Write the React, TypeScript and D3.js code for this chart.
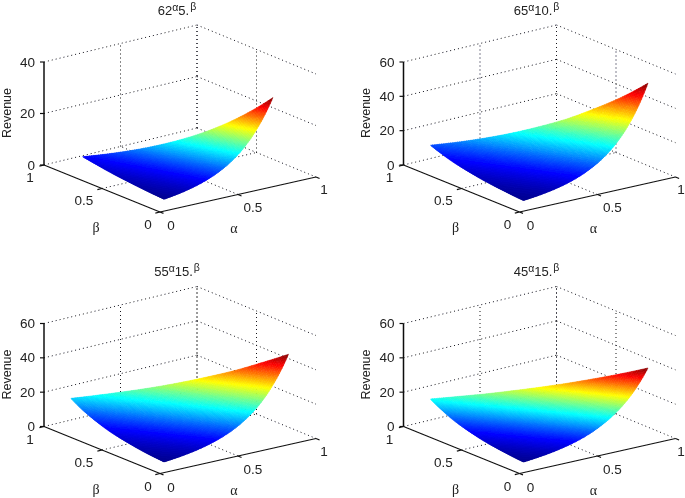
import { useEffect, useRef } from 'react'
import {
  group,
  max,
  min,
  path,
  scaleLinear,
  select,
} from 'd3'

// grid of the surface: rows are beta, columns are alpha, both start at 0.1
const gridStep = 0.1
const gridStart = 0.1

// Revenue read per panel, each row is one beta step
const revenueA = [
  [1.77, 2.67, 4.04, 6.1, 9.2, 13.9, 21.1, 31.7],
  [2.08, 3.15, 4.76, 7.19, 10.9, 16.4, 24.8],
  [2.45, 3.69, 5.59, 8.44, 12.7, 19.3],
  [2.87, 4.33, 6.56, 9.9, 15.0],
  [3.38, 5.11, 7.73, 11.7],
  [3.97, 6.0, 9.07],
  [4.67, 7.05],
  [5.47],
]
const revenueB = [
  [1.92, 2.9, 4.41, 6.69, 10.2, 15.4, 23.4, 35.5, 53.9],
  [2.4, 3.63, 5.53, 8.39, 12.7, 19.3, 29.4, 44.6],
  [3.04, 4.6, 7.0, 10.6, 16.1, 24.4, 37.2],
  [3.82, 5.77, 8.79, 13.3, 20.2, 30.6],
  [4.8, 7.27, 11.1, 16.8, 25.5],
  [6.05, 9.15, 13.9, 21.1],
  [7.62, 11.5, 17.5],
  [9.59, 14.5],
  [12.1],
]
const revenueC = [
  [1.95, 2.92, 4.36, 6.51, 9.72, 14.5, 21.6, 32.4, 48.3],
  [2.56, 3.84, 5.73, 8.55, 12.8, 19.1, 28.4, 42.5],
  [3.35, 5.02, 7.49, 11.2, 16.7, 25.0, 37.1],
  [4.4, 6.58, 9.82, 14.7, 21.9, 32.7],
  [5.77, 8.63, 12.9, 19.2, 28.7],
  [7.57, 11.3, 16.9, 25.2],
  [9.92, 14.9, 22.2],
  [13.0, 19.5],
  [17.0],
]
const revenueD = [
  [1.91, 2.8, 4.1, 6.0, 8.79, 12.9, 18.9, 27.5, 40.3],
  [2.51, 3.68, 5.38, 7.88, 11.5, 16.9, 24.8, 36.1],
  [3.29, 4.82, 7.04, 10.3, 15.1, 22.1, 32.4],
  [4.31, 6.31, 9.23, 13.5, 19.8, 29.0],
  [5.65, 8.28, 12.1, 17.7, 26.0],
  [7.42, 10.9, 15.9, 23.3],
  [9.72, 14.3, 20.8],
  [12.7, 18.7],
  [16.6],
]

const titleBases = [
  ['62', '5.'],
  ['65', '10.'],
  ['55', '15.'],
  ['45', '15.'],
]
const zTicksTall = [0, 20, 40, 60]
const zTicksShort = [0, 20, 40]
const floorTicks = [0, 0.5, 1]

const jetStops = ['#00008f', '#0000ff', '#00ffff', '#ffff00', '#ff0000', '#800000']
const jetDomain = [0, 0.125, 0.375, 0.625, 0.875, 1]
const colorLevels = 128
const cellDivisions = 12

const panels = [
  { rows: revenueA, title: titleBases[0], zTicks: zTicksShort, dx: 0, dy: 0 },
  { rows: revenueB, title: titleBases[1], zTicks: zTicksTall, dx: 359.5, dy: 0 },
  { rows: revenueC, title: titleBases[2], zTicks: zTicksTall, dx: 0, dy: 261.5 },
  { rows: revenueD, title: titleBases[3], zTicks: zTicksTall, dx: 359.5, dy: 261.5 },
]

// box corners on screen, near edge is beta = 0, far edge is beta = 1
const nearX = scaleLinear().domain([0, 1]).range([160, 316])
const nearY = scaleLinear().domain([0, 1]).range([212, 177])
const farX = scaleLinear().domain([0, 1]).range([44, 197])
const farY = scaleLinear().domain([0, 1]).range([165, 128])
const boxHeight = 103

const jet = scaleLinear<string>().domain(jetDomain).range(jetStops)

const App = () => {
  const svgRef = useRef<SVGSVGElement>(null)

  function renderPanel(root: any, panel: (typeof panels)[number]) {
    const g = root
      .append('g')
      .attr('transform', `translate(${panel.dx} ${panel.dy})`)

    const zMax = max(panel.zTicks) as number
    const zScale = scaleLinear().domain([0, zMax]).range([0, boxHeight])

    const project = (a: number, b: number, z: number): [number, number] => {
      const x = nearX(a) + (farX(a) - nearX(a)) * b
      const y = nearY(a) + (farY(a) - nearY(a)) * b
      return [x, y - zScale(z)]
    }

    const segment = (from: [number, number], to: [number, number]) => {
      const p = path()
      p.moveTo(from[0], from[1])
      p.lineTo(to[0], to[1])
      return p.toString()
    }

    const grid = g.append('g').attr('fill', 'none').attr('stroke', '#14141c').attr('stroke-dasharray', '1 3')
    panel.zTicks.forEach((z) => {
      grid.append('path').attr('d', segment(project(0, 1, z), project(1, 1, z)))
      grid.append('path').attr('d', segment(project(1, 1, z), project(1, 0, z)))
    })
    floorTicks.slice(1).forEach((t) => {
      grid.append('path').attr('d', segment(project(t, 1, 0), project(t, 1, zMax)))
      grid.append('path').attr('d', segment(project(1, t, 0), project(1, t, zMax)))
    })
    grid.append('path').attr('d', segment(project(0.5, 0, 0), project(0.5, 1, 0)))
    grid.append('path').attr('d', segment(project(0, 0.5, 0), project(1, 0.5, 0)))

    const axes = g.append('g').attr('fill', 'none').attr('stroke', '#111').attr('stroke-width', 1.2)
    axes.append('path').attr('d', segment(project(0, 1, 0), project(0, 1, zMax))).attr('stroke-width', 1.5)
    axes.append('path').attr('d', segment(project(0, 1, 0), project(0, 0, 0)))
    axes.append('path').attr('d', segment(project(0, 0, 0), project(1, 0, 0)))
    panel.zTicks.forEach((z) => {
      const [x, y] = project(0, 1, z)
      axes.append('path').attr('d', segment([x - 4, y], [x, y]))
    })
    floorTicks.forEach((t) => {
      axes.append('path').attr('d', segment(project(t, 0, 0), project(t, -0.03, 0)))
      axes.append('path').attr('d', segment(project(0, t, 0), project(-0.03, t, 0)))
    })

    // surface: triangles of the read table, bucketed into jet levels
    const values = panel.rows.flat()
    const zLow = min(values) as number
    const zHigh = max(values) as number
    const levelOf = scaleLinear().domain([zLow, zHigh]).range([0, colorLevels - 1]).clamp(true)
    const colorOf = (level: number) => jet(level / (colorLevels - 1))

    const triangles: { level: number; pts: [number, number][] }[] = []
    panel.rows.forEach((row, j) => {
      row.forEach((z00, i) => {
        const z10 = row[i + 1]
        const z01 = panel.rows[j + 1]?.[i]
        if (z10 === undefined || z01 === undefined) return
        const z11 = panel.rows[j + 1]?.[i + 1]

        const corner = (s: number, t: number) => {
          const u = s / cellDivisions
          const v = t / cellDivisions
          // shade between read values in log space, the surface is convex
          const bottom = Math.log(z00) + (Math.log(z10) - Math.log(z00)) * u
          const top =
            z11 === undefined
              ? Math.log(z01) + (Math.log(z10) - Math.log(z00)) * u
              : Math.log(z01) + (Math.log(z11) - Math.log(z01)) * u
          const z = Math.exp(bottom + (top - bottom) * v)
          const a = gridStart + (i + u) * gridStep
          const b = gridStart + (j + v) * gridStep
          return { z, p: project(a, b, z) }
        }

        const addTriangle = (c: { z: number; p: [number, number] }[]) => {
          const mean = (c[0].z + c[1].z + c[2].z) / 3
          triangles.push({ level: Math.round(levelOf(mean)), pts: c.map((d) => d.p) })
        }

        for (let s = 0; s < cellDivisions; s++) {
          for (let t = 0; t < cellDivisions; t++) {
            const full = z11 !== undefined
            if (full || s + t < cellDivisions) {
              addTriangle([corner(s, t), corner(s + 1, t), corner(s, t + 1)])
            }
            if (full || s + t < cellDivisions - 1) {
              addTriangle([corner(s + 1, t), corner(s + 1, t + 1), corner(s, t + 1)])
            }
          }
        }
      })
    })

    const surface = g.append('g').attr('stroke-width', 0.5).attr('stroke-linejoin', 'round')
    group(triangles, (d) => d.level).forEach((items, level) => {
      const p = path()
      items.forEach(({ pts }) => {
        p.moveTo(pts[0][0], pts[0][1])
        p.lineTo(pts[1][0], pts[1][1])
        p.lineTo(pts[2][0], pts[2][1])
        p.closePath()
      })
      surface
        .append('path')
        .attr('d', p.toString())
        .attr('fill', colorOf(level))
        .attr('stroke', colorOf(level))
    })

    // text
    const label = g
      .append('g')
      .attr('font-family', '"Liberation Sans", Arial, sans-serif')
      .attr('font-size', 13.5)
      .attr('fill', '#222')

    panel.zTicks.forEach((z) => {
      const [, y] = project(0, 1, z)
      label
        .append('text')
        .text(z)
        .attr('x', 35)
        .attr('y', y + 4.5)
        .attr('text-anchor', 'end')
    })

    // the "1" of the right panels sits hard against the page edge
    const alphaPos = [171, 253, Math.min(324, 681 - panel.dx)]
    const betaPos = [148, 84, 30]
    const alphaRow = [230, 212, 194]
    const betaRow = [229, 205, 182]
    floorTicks.forEach((t, i) => {
      label.append('text').text(t).attr('x', alphaPos[i]).attr('y', alphaRow[i]).attr('text-anchor', 'middle')
      label.append('text').text(t).attr('x', betaPos[i]).attr('y', betaRow[i]).attr('text-anchor', 'middle')
    })

    label
      .append('text')
      .text('Revenue')
      .attr('font-size', 12.5)
      .attr('text-anchor', 'middle')
      .attr('transform', 'translate(10.5 113) rotate(-90)')

    const greek = '"Liberation Serif", serif'
    label.append('text').text('α').attr('x', 234).attr('y', 233).attr('font-family', greek).attr('font-size', 14).attr('text-anchor', 'middle')
    label.append('text').text('β').attr('x', 96).attr('y', 232).attr('font-family', greek).attr('font-size', 14).attr('text-anchor', 'middle')

    const title = label.append('text').attr('x', 177).attr('y', 14.5).attr('text-anchor', 'middle').attr('font-size', 13)
    title.append('tspan').text(panel.title[0])
    title.append('tspan').text('α').attr('dy', -4).attr('font-size', 10.5)
    title.append('tspan').text(panel.title[1]).attr('dy', 4)
    title.append('tspan').text('β').attr('dy', -5).attr('font-size', 10.5).attr('dx', 1)
  }

  useEffect(() => {
    const svg = select(svgRef.current)
    svg.selectAll('*').remove()
    const defs = svg.append('defs')
    defs
      .append('filter')
      .attr('id', 'soft')
      .append('feGaussianBlur')
      .attr('stdDeviation', 0.35)
    const root = svg.append('g').attr('filter', 'url(#soft)')
    panels.forEach((panel) => renderPanel(root, panel))
  }, [])

  return (
    <svg
      ref={svgRef}
      width="685"
      height="498"
      style={{ position: 'absolute', left: 0, top: 0, background: '#fff' }}
    ></svg>
  )
}

export default App
